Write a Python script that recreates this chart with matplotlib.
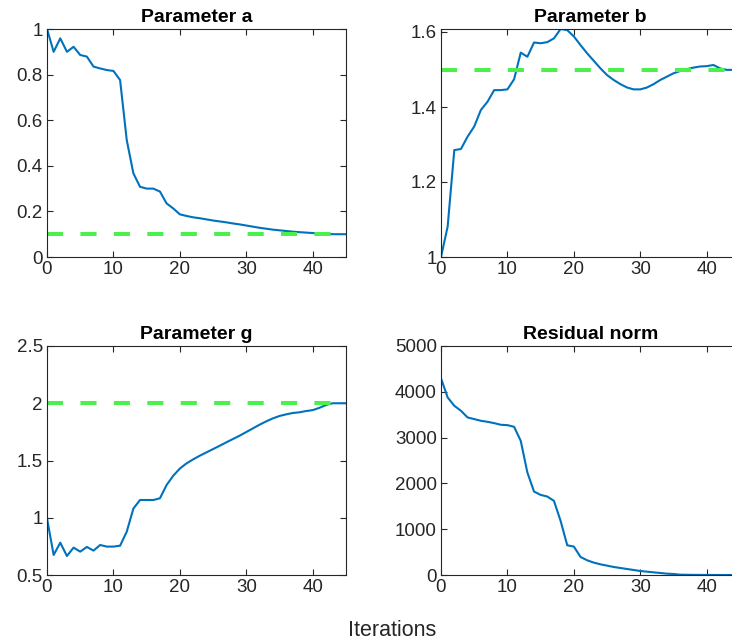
import matplotlib
matplotlib.use("Agg")
import matplotlib.pyplot as plt

plt.rcParams['font.family'] = ['Liberation Sans', 'DejaVu Sans']

iters = list(range(46))

param_a = [1.0, 0.90, 0.959, 0.90, 0.922, 0.886, 0.879, 0.835, 0.827, 0.82,
           0.816, 0.776, 0.513, 0.367, 0.308, 0.30, 0.30, 0.287, 0.235, 0.213,
           0.187, 0.18, 0.174, 0.17, 0.165, 0.16, 0.156, 0.152, 0.147, 0.143,
           0.138, 0.133, 0.128, 0.124, 0.12, 0.117, 0.114, 0.111, 0.109, 0.107,
           0.105, 0.103, 0.101, 0.1, 0.1, 0.1]

param_b = [1.0, 1.081, 1.285, 1.288, 1.321, 1.348, 1.392, 1.414, 1.445, 1.445,
           1.447, 1.474, 1.545, 1.534, 1.572, 1.57, 1.573, 1.583, 1.608, 1.605,
           1.588, 1.565, 1.543, 1.523, 1.503, 1.485, 1.472, 1.461, 1.452, 1.447,
           1.447, 1.452, 1.461, 1.472, 1.481, 1.49, 1.496, 1.501, 1.505, 1.508,
           1.509, 1.512, 1.503, 1.499, 1.499, 1.5]

param_g = [0.995, 0.675, 0.782, 0.666, 0.739, 0.704, 0.745, 0.713, 0.762, 0.748,
           0.748, 0.756, 0.878, 1.08, 1.155, 1.155, 1.155, 1.17, 1.286, 1.367,
           1.43, 1.475, 1.51, 1.542, 1.571, 1.6, 1.629, 1.659, 1.688, 1.717,
           1.749, 1.781, 1.813, 1.842, 1.868, 1.889, 1.903, 1.915, 1.921, 1.932,
           1.94, 1.96, 1.985, 2.0, 2.0, 2.0]

residual = [4293, 3877, 3695, 3586, 3440, 3404, 3367, 3345, 3316, 3280,
            3272, 3236, 2930, 2238, 1822, 1749, 1713, 1618, 1181, 649,
            620, 394, 321, 270, 233, 204, 175, 153, 131, 109,
            87, 73, 58, 44, 29, 22, 7, 5, 3, 2,
            1, 1, 0, 0, 0, 0]

true_a, true_b, true_g = 0.1, 1.5, 2.0

blue = '#0072BD'
green = '#4cf04c'
tick_grey = '#262626'

W, H = 732, 641
fig = plt.figure(figsize=(W / 100, H / 100), dpi=100)

def make_ax(x0, y0, x1, y1):
    return fig.add_axes([x0 / W, 1 - y1 / H, (x1 - x0) / W, (y1 - y0) / H])

ax_a = make_ax(47, 29, 346, 257)
ax_b = make_ax(441, 29, 740, 257)
ax_g = make_ax(47, 346, 346, 575)
ax_r = make_ax(441, 346, 740, 575)

panels = [
    (ax_a, param_a, true_a, 'Parameter a', (0, 1), [0, 0.2, 0.4, 0.6, 0.8, 1]),
    (ax_b, param_b, true_b, 'Parameter b', (1, 1.608), [1, 1.2, 1.4, 1.6]),
    (ax_g, param_g, true_g, 'Parameter g', (0.5, 2.5), [0.5, 1, 1.5, 2, 2.5]),
    (ax_r, residual, None, 'Residual norm', (0, 5000), [0, 1000, 2000, 3000, 4000, 5000]),
]

for ax, vals, truth, title, ylim, yticks in panels:
    ax.plot(iters, vals, color=blue, lw=1.5)
    if truth is not None:
        ax.plot([0, 45], [truth, truth], color=green, lw=2.9,
                dashes=(4, 4.3), solid_capstyle='butt', dash_capstyle='butt')
    ax.set_xlim(0, 45)
    ax.set_ylim(*ylim)
    ax.set_xticks([0, 10, 20, 30, 40])
    ax.set_yticks(yticks)
    ax.set_yticklabels([f'{t:g}' for t in yticks])
    ax.set_title(title, fontsize=14, fontweight='bold', pad=5)
    ax.tick_params(direction='in', top=True, right=True, length=4,
                   labelsize=13.5, colors=tick_grey, labelcolor=tick_grey, pad=3)
    for sp in ax.spines.values():
        sp.set_color(tick_grey)
        sp.set_linewidth(0.8)

fig.text(392 / W, 1 - 630 / H, 'Iterations', ha='center', va='center',
         fontsize=15.5, color=tick_grey)

fig.savefig('out.png', dpi=100)
